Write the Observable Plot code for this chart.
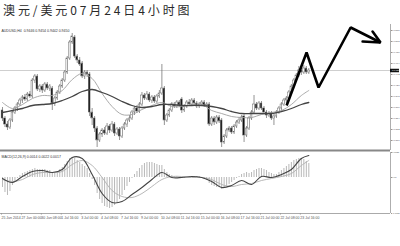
<!DOCTYPE html>
<html>
<head>
<meta charset="utf-8">
<script src="https://cdn.jsdelivr.net/npm/d3@7"></script>
<script src="https://cdn.jsdelivr.net/npm/@observablehq/plot@0.6"></script>
<style>
  html, body { margin: 0; padding: 0; background: #fff; width: 400px; height: 246px; overflow: hidden; }
  #title { height: 22px; line-height: 20px; padding-left: 3px; font-family: "Noto Sans CJK SC", sans-serif; font-size: 12px; letter-spacing: 2.9px; color: #2a2a2a; white-space: nowrap; }
  svg { display: block; }
</style>
</head>
<body>
<div id="title">澳元/美元07月24日4小时图</div>
<div id="chart"></div>
<script>
// AUD/USD 4-hour candles
const open = [
0.9370,0.9354,0.9342,0.9336,0.9350,0.9366,0.9374,0.9382,0.9390,0.9396,
0.9392,0.9402,0.9398,0.9430,0.9438,0.9412,0.9418,0.9410,0.9422,0.9414,
0.9414,0.9384,0.9394,0.9406,0.9418,0.9430,0.9446,0.9474,0.9506,0.9516,
0.9478,0.9470,0.9464,0.9438,0.9446,0.9442,0.9366,0.9354,0.9334,0.9310,
0.9322,0.9330,0.9324,0.9338,0.9330,0.9342,0.9324,0.9332,0.9318,0.9334,
0.9342,0.9350,0.9354,0.9366,0.9374,0.9368,0.9382,0.9400,0.9394,0.9402,
0.9390,0.9396,0.9388,0.9398,0.9404,0.9414,0.9350,0.9360,0.9370,0.9382,
0.9378,0.9386,0.9392,0.9370,0.9378,0.9386,0.9382,0.9390,0.9384,0.9378,
0.9382,0.9386,0.9380,0.9382,0.9342,0.9354,0.9346,0.9356,0.9350,0.9306,
0.9318,0.9330,0.9334,0.9326,0.9338,0.9346,0.9350,0.9358,0.9320,0.9334,
0.9354,0.9366,0.9382,0.9374,0.9384,0.9374,0.9366,0.9360,0.9364,0.9354,
0.9358,0.9366,0.9374,0.9382,0.9390,0.9394,0.9406,0.9418,0.9430,0.9440,
0.9450,0.9446,0.9454,0.9446];
const high = [
0.9376,0.9358,0.9348,0.9354,0.9370,0.9378,0.9386,0.9394,0.9400,0.9402,
0.9406,0.9408,0.9434,0.9442,0.9442,0.9422,0.9422,0.9426,0.9426,0.9422,
0.9418,0.9398,0.9410,0.9422,0.9434,0.9450,0.9478,0.9510,0.9524,0.9520,
0.9482,0.9476,0.9468,0.9450,0.9450,0.9446,0.9374,0.9358,0.9338,0.9326,
0.9334,0.9336,0.9344,0.9342,0.9348,0.9346,0.9336,0.9336,0.9338,0.9346,
0.9354,0.9360,0.9370,0.9378,0.9380,0.9386,0.9406,0.9404,0.9408,0.9406,
0.9400,0.9400,0.9402,0.9410,0.9462,0.9418,0.9364,0.9374,0.9386,0.9386,
0.9390,0.9390,0.9396,0.9382,0.9390,0.9392,0.9394,0.9394,0.9388,0.9386,
0.9390,0.9390,0.9386,0.9386,0.9358,0.9358,0.9360,0.9360,0.9354,0.9322,
0.9334,0.9338,0.9338,0.9342,0.9350,0.9356,0.9360,0.9362,0.9338,0.9358,
0.9370,0.9400,0.9386,0.9388,0.9388,0.9378,0.9370,0.9368,0.9368,0.9362,
0.9370,0.9378,0.9386,0.9394,0.9398,0.9410,0.9422,0.9434,0.9444,0.9458,
0.9454,0.9460,0.9458,0.9454];
const low = [
0.9348,0.9336,0.9330,0.9332,0.9346,0.9362,0.9368,0.9378,0.9384,0.9388,
0.9388,0.9394,0.9394,0.9424,0.9408,0.9406,0.9404,0.9406,0.9410,0.9408,
0.9370,0.9378,0.9390,0.9402,0.9414,0.9426,0.9442,0.9470,0.9502,0.9474,
0.9464,0.9458,0.9434,0.9432,0.9436,0.9358,0.9340,0.9326,0.9296,0.9306,
0.9316,0.9320,0.9320,0.9324,0.9326,0.9318,0.9320,0.9310,0.9314,0.9330,
0.9336,0.9346,0.9350,0.9360,0.9364,0.9364,0.9378,0.9390,0.9390,0.9386,
0.9384,0.9384,0.9384,0.9394,0.9400,0.9340,0.9346,0.9356,0.9366,0.9374,
0.9374,0.9376,0.9364,0.9366,0.9374,0.9378,0.9378,0.9380,0.9374,0.9374,
0.9378,0.9376,0.9376,0.9338,0.9338,0.9340,0.9342,0.9344,0.9296,0.9302,
0.9314,0.9326,0.9322,0.9322,0.9334,0.9342,0.9346,0.9306,0.9316,0.9330,
0.9350,0.9362,0.9370,0.9370,0.9370,0.9362,0.9354,0.9356,0.9350,0.9340,
0.9354,0.9362,0.9370,0.9378,0.9384,0.9390,0.9402,0.9414,0.9426,0.9436,
0.9440,0.9442,0.9442,0.9442];
const close = [
0.9354,0.9342,0.9336,0.9350,0.9366,0.9374,0.9382,0.9390,0.9396,0.9392,
0.9402,0.9398,0.9430,0.9438,0.9412,0.9418,0.9410,0.9422,0.9414,0.9418,
0.9384,0.9394,0.9406,0.9418,0.9430,0.9446,0.9474,0.9506,0.9518,0.9478,
0.9470,0.9462,0.9438,0.9446,0.9442,0.9366,0.9354,0.9334,0.9310,0.9322,
0.9330,0.9324,0.9338,0.9330,0.9342,0.9324,0.9332,0.9318,0.9334,0.9342,
0.9350,0.9354,0.9366,0.9374,0.9368,0.9382,0.9400,0.9394,0.9402,0.9390,
0.9396,0.9388,0.9398,0.9404,0.9414,0.9350,0.9360,0.9370,0.9382,0.9378,
0.9386,0.9380,0.9370,0.9378,0.9386,0.9382,0.9390,0.9384,0.9378,0.9382,
0.9386,0.9380,0.9382,0.9342,0.9354,0.9346,0.9356,0.9348,0.9306,0.9318,
0.9330,0.9334,0.9326,0.9338,0.9346,0.9350,0.9356,0.9320,0.9334,0.9354,
0.9366,0.9382,0.9374,0.9384,0.9374,0.9366,0.9360,0.9364,0.9354,0.9358,
0.9366,0.9374,0.9382,0.9390,0.9394,0.9406,0.9418,0.9430,0.9440,0.9450,
0.9446,0.9454,0.9446,0.9450];

// moving averages, sampled every 4 candles
const maIdx = [0,4,8,12,16,20,24,28,32,36,40,44,48,52,56,60,64,68,72,76,80,84,88,92,96,100,104,108,112,116,120,123];
const maSlow = [0.9366,0.9370,0.9374,0.9380,0.9382,0.9384,0.9390,0.9398,0.9408,0.9412,0.9406,0.9398,0.9388,0.9380,0.9376,0.9378,
0.9382,0.9382,0.9380,0.9380,0.9380,0.9378,0.9374,0.9368,0.9364,0.9364,0.9364,0.9364,0.9368,0.9374,0.9382,0.9386];
const maFast = [0.9386,0.9374,0.9382,0.9394,0.9400,0.9400,0.9410,0.9432,0.9444,0.9434,0.9404,0.9378,0.9362,0.9362,0.9372,0.9380,
0.9386,0.9378,0.9378,0.9382,0.9382,0.9370,0.9364,0.9358,0.9356,0.9356,0.9362,0.9366,0.9370,0.9382,0.9400,0.9410];

// MACD panel
const macdHist = [
-0.0010,-0.0015,-0.0018,-0.0014,-0.0008,-0.0004,-0.0001,0.0002,0.0004,0.0005,
0.0006,0.0007,0.0008,0.0009,0.0008,0.0008,0.0008,0.0008,0.0007,0.0007,
0.0005,0.0005,0.0006,0.0008,0.0010,0.0013,0.0016,0.0019,0.0020,0.0019,
0.0017,0.0015,0.0013,0.0011,0.0009,0.0004,-0.0002,-0.0008,-0.0016,-0.0022,
-0.0026,-0.0029,-0.0030,-0.0031,-0.0030,-0.0028,-0.0025,-0.0022,-0.0018,-0.0013,
-0.0009,-0.0005,-0.0001,0.0003,0.0006,0.0009,0.0012,0.0014,0.0015,0.0015,
0.0015,0.0014,0.0013,0.0012,0.0012,0.0008,0.0005,0.0003,0.0002,0.0001,
0.0001,0,-0.0001,-0.0001,0,0.0001,0.0001,0.0001,0.0001,0.0001,
0,-0.0002,-0.0003,-0.0006,-0.0008,-0.0009,-0.0010,-0.0010,-0.0012,-0.0011,
-0.0009,-0.0007,-0.0005,-0.0003,-0.0001,0.0001,0.0003,0.0004,0.0005,0.0004,
0.0005,0.0007,0.0008,0.0009,0.0009,0.0008,0.0007,0.0005,0.0004,0.0003,
0.0003,0.0005,0.0007,0.0009,0.0011,0.0013,0.0015,0.0017,0.0018,0.0019,
0.0019,0.0018,0.0016,0.0014];
const macdLine = [-0.0001,-0.0005,0.0001,0.0006,0.0007,0.0005,0.0008,0.0020,0.0019,0.0003,-0.0016,-0.0025,-0.0024,-0.0017,-0.0010,-0.0002,
0.0005,0,0,0.0001,0,-0.0004,-0.0010,-0.0008,-0.0003,-0.0007,0.0001,0,0.0003,0.0008,0.0019,0.0022];
const macdSignal = [-0.0002,-0.0004,-0.0002,0.0003,0.0005,0.0005,0.0006,0.0013,0.0017,0.0012,0,-0.0013,-0.0019,-0.0020,-0.0016,-0.0009,
-0.0002,0.0001,0.0001,0,0,-0.0002,-0.0007,-0.0009,-0.0007,-0.0006,-0.0003,-0.0001,0.0001,0.0004,0.0012,0.0017];

// axes
const priceTicks = [0.9530,0.9508,0.9486,0.9464,0.9442,0.9420,0.9398,0.9376,0.9354,0.9332,0.9310];
const macdTicks = [0.0025,0,-0.0036];
const dateIdx = [0,8,16,24,32,40,48,56,64,72,80,88,96,104,112,120];
const dateLabels = ["25 Jun 2014","27 Jun 00:00","30 Jun 08:00","1 Jul 16:00","3 Jul 00:00","4 Jul 08:00","7 Jul 16:00","9 Jul 00:00",
"10 Jul 08:00","11 Jul 16:00","15 Jul 00:00","16 Jul 08:00","17 Jul 16:00","21 Jul 00:00","22 Jul 08:00","23 Jul 16:00"];

// hand-drawn forecast arrow (candle index, price)
const arrowIdx = [114.1,122.1,126.9,139.8,151.8];
const arrowPrice = [0.9380,0.9486,0.9416,0.9536,0.9506];
const headIdx = [144.6,151.8,148.6];
const headPrice = [0.9508,0.9506,0.9528];

const xDomain = [-0.8, 155.8];
const priceDomain = [0.9290, 0.9542];
const macdDomain = [-0.0036, 0.0025];
const last = open.length - 1;
const lastPrice = close[last];

const candles = open.map((o, i) => ({i, o, h: high[i], l: low[i], c: close[i]}));
const slow = maIdx.map((x, k) => ({x, y: maSlow[k]}));
const fast = maIdx.map((x, k) => ({x, y: maFast[k]}));
const arrow = arrowIdx.map((x, k) => ({x, y: arrowPrice[k]}));
const head = headIdx.map((x, k) => ({x, y: headPrice[k]}));
const hist = macdHist.map((v, i) => ({i, v}));
const mLine = maIdx.map((x, k) => ({x, y: macdLine[k]}));
const mSig = maIdx.map((x, k) => ({x, y: macdSignal[k]}));

const style = {fontFamily: "'Liberation Sans', Arial, sans-serif", fontSize: "4px", background: "#fff", color: "#555", overflow: "visible"};
const f4 = d => d.toFixed(4);

const pricePlot = Plot.plot({
  width: 400, height: 129, marginTop: 2, marginBottom: 1, marginLeft: 0, marginRight: 10,
  x: {domain: xDomain, axis: null},
  y: {domain: priceDomain, axis: null},
  style,
  marks: [
    Plot.ruleY([lastPrice], {stroke: "#cfcfcf", strokeWidth: 1}),
    Plot.ruleX(candles, {x: "i", y1: "l", y2: "h", stroke: "#666", strokeWidth: 0.7}),
    Plot.rect(candles, {x1: d => d.i - 0.34, x2: d => d.i + 0.34, y1: "o", y2: "c",
      fill: d => d.c >= d.o ? "#fff" : "#111", stroke: "#666", strokeWidth: 0.5}),
    Plot.line(fast, {x: "x", y: "y", stroke: "#a0a0a0", strokeWidth: 0.9, curve: "catmull-rom"}),
    Plot.line(slow, {x: "x", y: "y", stroke: "#444", strokeWidth: 1.3, curve: "catmull-rom"}),
    Plot.line(arrow, {x: "x", y: "y", stroke: "#000", strokeWidth: 2.6, strokeLinejoin: "miter", strokeLinecap: "butt"}),
    Plot.line(head, {x: "x", y: "y", stroke: "#000", strokeWidth: 2.6, strokeLinejoin: "miter"}),
    Plot.ruleX([xDomain[1]], {stroke: "#999", strokeWidth: 0.8}),
    Plot.ruleY([priceDomain[0]], {stroke: "#888", strokeWidth: 2}),
    Plot.axisY(priceTicks, {anchor: "right", label: null, tickSize: 1, tickPadding: 0.5, fontSize: 2.5, tickFormat: f4, stroke: "#999"}),
    Plot.ruleY([lastPrice], {x1: xDomain[1], x2: xDomain[1] + 3.6, stroke: "#111", strokeWidth: 3.5}),
    Plot.text([lastPrice], {x: xDomain[1], y: d => d, text: f4, dx: 1.5, textAnchor: "start", fontSize: 2.5, fill: "#fff"}),
    Plot.text([`AUDUSD,H4  ${f4(open[last])} ${f4(high[last])} ${f4(low[last])} ${f4(close[last])}`],
      {frameAnchor: "top-left", dx: 1, dy: 5, fontSize: 3.5, fill: "#333"})
  ]
});

const macdPlot = Plot.plot({
  width: 400, height: 95, marginTop: 1, marginBottom: 33, marginLeft: 0, marginRight: 10,
  x: {domain: xDomain, axis: null},
  y: {domain: macdDomain, axis: null},
  style,
  marks: [
    Plot.ruleX(hist, {x: "i", y1: 0, y2: "v", stroke: "#9a9a9a", strokeWidth: 0.7}),
    Plot.line(mSig, {x: "x", y: "y", stroke: "#b0b0b0", strokeWidth: 0.9, curve: "catmull-rom"}),
    Plot.line(mLine, {x: "x", y: "y", stroke: "#444", strokeWidth: 1.1, curve: "catmull-rom"}),
    Plot.ruleX([xDomain[1]], {stroke: "#999", strokeWidth: 0.8}),
    Plot.ruleY([macdDomain[0]], {stroke: "#aaa", strokeWidth: 1}),
    Plot.axisY(macdTicks, {anchor: "right", label: null, tickSize: 1, tickPadding: 0.5, fontSize: 2.3,
      tickFormat: d => d === 0 ? "0.00" : d.toFixed(4), stroke: "#999"}),
    Plot.axisX(dateIdx, {anchor: "bottom", label: null, tickSize: 1.5, tickPadding: 1, fontSize: 3.5,
      textAnchor: "start", dx: -1, tickFormat: d => dateLabels[dateIdx.indexOf(d)], stroke: "#999"}),
    Plot.text([`MACD(12,26,9) ${f4(macdHist[last])} ${f4(macdLine[macdLine.length - 1])} ${f4(macdSignal[macdSignal.length - 1])}`],
      {frameAnchor: "top-left", dx: 1, dy: 3, fontSize: 3.5, fill: "#333"})
  ]
});

const chart = document.getElementById("chart");
chart.appendChild(pricePlot);
chart.appendChild(macdPlot);
</script>
</body>
</html>
